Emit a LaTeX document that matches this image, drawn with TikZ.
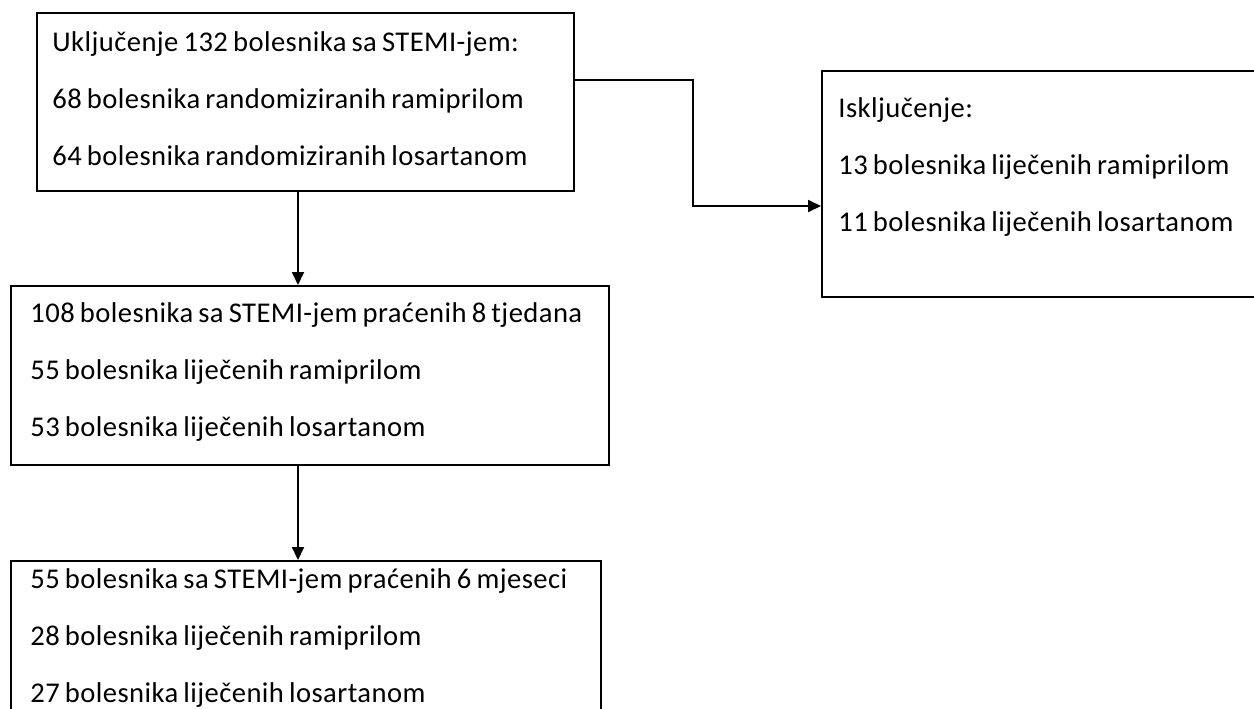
\documentclass[tikz,border=0pt]{standalone}
\usepackage{fontspec}
\setmainfont{Carlito}[WordSpace=0.75, LetterSpace=1.5]
\usetikzlibrary{arrows.meta, positioning}

\begin{document}
\begin{tikzpicture}[x=0.5pt, y=-0.5pt,
  box/.style={draw, line width=0.9pt, anchor=north west, inner sep=0pt},
  txt/.style={align=left, inner sep=0pt, font=\fontsize{14.3}{28.5}\selectfont},
  arr/.style={-{Triangle[length=6.5pt,width=6pt]}, line width=0.9pt}]
\useasboundingbox (0,0) rectangle (1254,708);
\clip (0,0) rectangle (1254,708);

 % Boxes
 \node[box, minimum width=268.5pt, minimum height=89pt] (b1) at (36,12) {};
 \node[box, minimum width=299pt, minimum height=89.5pt] (b2) at (10,285) {};
 \node[box, minimum width=295pt, minimum height=77pt] (b3) at (10,560) {};
 \node[box, minimum width=230pt, minimum height=113pt] (b4) at (821,70) {};

 % Texts in the boxes
 \node[txt, right=8pt of b1.west, yshift=1.5pt] (t1)
   {Uključenje 132 bolesnika sa STEMI-jem:\\
    68 bolesnika randomiziranih ramiprilom\\
    64 bolesnika randomiziranih losartanom};
 \node[txt, right=10pt of b2.west, yshift=1.5pt] (t2)
   {108 bolesnika sa STEMI-jem praćenih 8 tjedana\\
    55 bolesnika liječenih ramiprilom\\
    53 bolesnika liječenih losartanom};
 \node[txt, right=10pt of b3.west] (t3)
   {55 bolesnika sa STEMI-jem praćenih 6 mjeseci\\
    28 bolesnika liječenih ramiprilom\\
    27 bolesnika liječenih losartanom};
 \node[txt, right=8.5pt of b4.west, yshift=8.5pt] (t4)
   {Isključenje:\\
    13 bolesnika liječenih ramiprilom\\
    11 bolesnika liječenih losartanom};

 % Bend points
 \coordinate (c1) at (298,0);
 \coordinate (p1) at (693,80);
 \coordinate (p2) at (693,206);

 % Arrows
 \draw[arr] (b1.south -| c1) -- (b2.north -| c1);
 \draw[arr] (b2.south -| c1) -- (b3.north -| c1);
 \draw[arr] (b1.east |- p1) -- (p1) -- (p2) -- (b4.west |- p2);
\end{tikzpicture}
\end{document}
